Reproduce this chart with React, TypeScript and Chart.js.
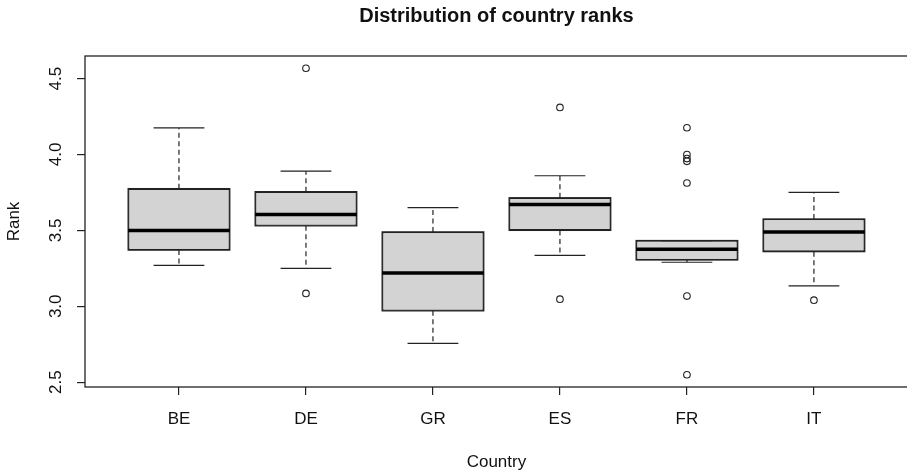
import React, { useEffect, useRef } from "react";
import { Chart, registerables } from "chart.js";

Chart.register(...registerables);

const categories = ["BE", "DE", "GR", "ES", "FR", "IT"];
const whiskerLow = [3.27, 3.25, 2.755, 3.335, 3.29, 3.135];
const q1 = [3.37, 3.53, 2.97, 3.5, 3.305, 3.36];
const medians = [3.5, 3.605, 3.22, 3.67, 3.375, 3.49];
const q3 = [3.775, 3.755, 3.49, 3.715, 3.433, 3.575];
const whiskerHigh = [4.175, 3.89, 3.65, 3.86, 3.433, 3.75];
const outlierGroup = ["DE", "DE", "ES", "ES", "FR", "FR", "FR", "FR", "FR", "FR", "FR", "IT"];
const outlierValues = [4.568, 3.085, 4.31, 3.047, 4.176, 4.0, 3.973, 3.955, 3.812, 3.067, 2.549, 3.04];
const yTickValues = [2.5, 3.0, 3.5, 4.0, 4.5];

const FONT = "'Liberation Sans', Arial, sans-serif";
const INK = "#111";
const W = 913;
const H = 473;

export default function App() {
  const ref = useRef<HTMLCanvasElement | null>(null);

  useEffect(() => {
    document.documentElement.style.overflow = "hidden";
    document.body.style.margin = "0";
    document.body.style.overflow = "hidden";
    const canvas = ref.current;
    if (!canvas) return;

    const n = categories.length;
    const all = [...whiskerLow, ...whiskerHigh, ...outlierValues];
    const dmin = Math.min(...all);
    const dmax = Math.max(...all);
    const span = dmax - dmin;
    const yMin = dmin - 0.04 * span;
    const yMax = dmax + 0.04 * span;
    const xMin = 0.5 - 0.04 * n;
    const xMax = n + 0.5 + 0.04 * n;

    const boxPlugin = {
      id: "boxParts",
      afterDatasetsDraw(chart: any) {
        const { ctx, scales } = chart;
        const xs = scales.x;
        const ys = scales.y;
        const meta = chart.getDatasetMeta(0);
        ctx.save();
        categories.forEach((_, i) => {
          const el = meta.data[i];
          const w = el.width;
          const cx = xs.getPixelForValue(i + 1);
          const yQ1 = ys.getPixelForValue(q1[i]);
          const yQ3 = ys.getPixelForValue(q3[i]);
          const yLo = ys.getPixelForValue(whiskerLow[i]);
          const yHi = ys.getPixelForValue(whiskerHigh[i]);
          const yMed = ys.getPixelForValue(medians[i]);
          ctx.strokeStyle = "#222";
          ctx.lineWidth = 1.2;
          ctx.setLineDash([5, 3.5]);
          ctx.beginPath();
          ctx.moveTo(cx, yQ3);
          ctx.lineTo(cx, yHi);
          ctx.moveTo(cx, yQ1);
          ctx.lineTo(cx, yLo);
          ctx.stroke();
          ctx.setLineDash([]);
          ctx.beginPath();
          ctx.moveTo(cx - w / 4, yHi);
          ctx.lineTo(cx + w / 4, yHi);
          ctx.moveTo(cx - w / 4, yLo);
          ctx.lineTo(cx + w / 4, yLo);
          ctx.stroke();
          ctx.lineWidth = 1.3;
          ctx.strokeStyle = "#222";
          ctx.strokeRect(cx - w / 2, yQ3, w, yQ1 - yQ3);
          ctx.strokeStyle = "#000";
          ctx.lineWidth = 3.5;
          ctx.lineCap = "butt";
          ctx.beginPath();
          ctx.moveTo(cx - w / 2, yMed);
          ctx.lineTo(cx + w / 2, yMed);
          ctx.stroke();
        });
        ctx.restore();
      },
      afterDraw(chart: any) {
        const { ctx, chartArea } = chart;
        ctx.save();
        ctx.strokeStyle = "#222";
        ctx.lineWidth = 1.3;
        ctx.strokeRect(chartArea.left, chartArea.top, chartArea.right - chartArea.left, chartArea.bottom - chartArea.top);
        ctx.restore();
      },
    };

    const chart = new Chart(canvas, {
      type: "bar",
      data: {
        datasets: [
          {
            type: "bar",
            data: categories.map((_, i) => ({ x: i + 1, y: [q1[i], q3[i]] })) as any,
            backgroundColor: "#d3d3d3",
            borderColor: "#222",
            borderWidth: 1.3,
            borderSkipped: false,
            barPercentage: 0.8,
            categoryPercentage: 1,
          } as any,
          {
            type: "line",
            data: outlierValues.map((v, k) => ({ x: categories.indexOf(outlierGroup[k]) + 1, y: v })) as any,
            showLine: false,
            pointStyle: "circle",
            pointRadius: 3.3,
            pointBackgroundColor: "rgba(255,255,255,0)",
            pointBorderColor: "#222",
            pointBorderWidth: 1.1,
          } as any,
        ],
      },
      options: {
        responsive: false,
        animation: false,
        devicePixelRatio: 1,
        layout: { padding: 0 },
        plugins: {
          legend: { display: false },
          tooltip: { enabled: false },
          title: {
            display: true,
            text: "Distribution of country ranks",
            fullSize: false,
            color: INK,
            font: { family: FONT, size: 20, weight: "bold", lineHeight: 1.2 },
            padding: { top: 4, bottom: 28 },
          },
        },
        scales: {
          x: {
            type: "linear",
            offset: false,
            min: xMin,
            max: xMax,
            afterBuildTicks: (axis: any) => {
              axis.ticks = categories.map((_, i) => ({ value: i + 1 }));
            },
            afterFit: (axis: any) => {
              axis.height = 86;
            },
            ticks: {
              autoSkip: false,
              maxRotation: 0,
              minRotation: 0,
              padding: 14,
              color: INK,
              font: { family: FONT, size: 17 },
              callback: (v: any) => categories[Math.round(Number(v)) - 1] ?? "",
            },
            grid: { display: true, offset: false, drawOnChartArea: false, drawTicks: true, tickLength: 8, color: "#222", lineWidth: 1.2 },
            border: { display: false },
            title: {
              display: true,
              text: "Country",
              color: INK,
              font: { family: FONT, size: 17 },
              padding: { top: 0, bottom: 0 },
            },
          },
          y: {
            type: "linear",
            min: yMin,
            max: yMax,
            afterBuildTicks: (axis: any) => {
              axis.ticks = yTickValues.map((v) => ({ value: v }));
            },
            afterFit: (axis: any) => {
              axis.width = 85;
            },
            ticks: {
              minRotation: 90,
              maxRotation: 90,
              crossAlign: "center",
              padding: 9,
              color: INK,
              font: { family: FONT, size: 17 },
              callback: (v: any) => Number(v).toFixed(1),
            },
            grid: { display: true, drawOnChartArea: false, drawTicks: true, tickLength: 8, color: "#222", lineWidth: 1.2 },
            border: { display: false },
            title: {
              display: true,
              text: "Rank",
              color: INK,
              font: { family: FONT, size: 17 },
              padding: { top: 4, bottom: 0 },
            },
          },
        },
      } as any,
      plugins: [boxPlugin],
    });

    return () => chart.destroy();
  }, []);

  return (
    <div style={{ width: W, height: H, overflow: "hidden" }}>
      <canvas ref={ref} width={W} height={H} style={{ display: "block" }} />
    </div>
  );
}
